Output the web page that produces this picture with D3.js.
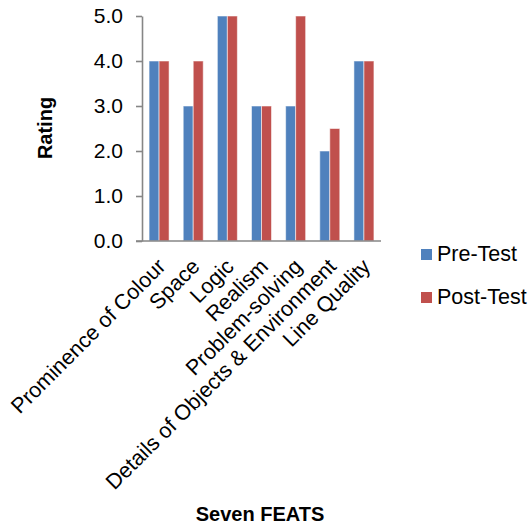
<!DOCTYPE html>
<html>
<head>
<meta charset="utf-8">
<script src="https://cdn.jsdelivr.net/npm/d3@7"></script>
<style>
  html, body { margin: 0; padding: 0; background: #ffffff; }
  svg text { font-family: "Liberation Sans", Arial, sans-serif; fill: #000; }
</style>
</head>
<body>
<svg id="chart" width="531" height="529"></svg>
<script>
// Seven FEATS ratings, before and after
const categories = [
  "Prominence of Colour",
  "Space",
  "Logic",
  "Realism",
  "Problem-solving",
  "Details of Objects & Environment",
  "Line Quality"
];
const preTest  = [4, 3, 5, 3, 3, 2, 4];
const postTest = [4, 4, 5, 3, 5, 2.5, 4];
const seriesNames = ["Pre-Test", "Post-Test"];
const seriesColors = ["#4F81BD", "#C0504D"];
const yTicks = [0, 1, 2, 3, 4, 5];

const svg = d3.select("#chart");

const plot = { left: 142, right: 381, top: 16, bottom: 241 };

const x = d3.scaleBand()
  .domain(categories)
  .range([plot.left, plot.right])
  .paddingInner(0.414)
  .paddingOuter(0.207);

const series = d3.scaleBand()
  .domain(seriesNames)
  .range([0, x.bandwidth()]);

const y = d3.scaleLinear()
  .domain([0, 5])
  .range([plot.bottom, plot.top]);

const color = d3.scaleOrdinal().domain(seriesNames).range(seriesColors);

const rows = categories.map((c, i) => ({
  category: c,
  values: [
    { name: seriesNames[0], value: preTest[i] },
    { name: seriesNames[1], value: postTest[i] }
  ]
}));

// bars
const groups = svg.append("g")
  .selectAll("g")
  .data(rows)
  .join("g")
  .attr("transform", d => `translate(${x(d.category)},0)`);

groups.selectAll("rect")
  .data(d => d.values)
  .join("rect")
  .attr("x", d => series(d.name))
  .attr("y", d => y(d.value))
  .attr("width", series.bandwidth())
  .attr("height", d => y(0) - y(d.value))
  .attr("fill", d => color(d.name))
  .attr("stroke", "rgba(255,255,255,0.55)")
  .attr("stroke-width", 1);

// y axis
const yAxis = svg.append("g")
  .attr("transform", `translate(${plot.left},0)`)
  .call(d3.axisLeft(y)
    .tickValues(yTicks)
    .tickFormat(d3.format(".1f"))
    .tickSize(6)
    .tickSizeOuter(0)
    .tickPadding(13));
yAxis.select(".domain").attr("stroke", "#868686").attr("stroke-width", 1.6);
yAxis.selectAll(".tick line").attr("stroke", "#868686").attr("stroke-width", 1.6);
yAxis.selectAll(".tick text")
  .attr("font-size", 21)
  .attr("font-family", "Liberation Sans, Arial, sans-serif")
  .attr("fill", "#000");

// x axis line
svg.append("line")
  .attr("x1", plot.left - 6)
  .attr("x2", plot.right)
  .attr("y1", y(0))
  .attr("y2", y(0))
  .attr("stroke", "#868686")
  .attr("stroke-width", 1.6);

// category labels, rotated
svg.append("g")
  .selectAll("text")
  .data(categories)
  .join("text")
  .attr("transform", d => `translate(${x(d) + x.bandwidth() / 2 - 3},${y(0) + 16}) rotate(-45)`)
  .attr("text-anchor", "end")
  .attr("dy", "0.71em")
  .attr("font-size", 21.5)
  .text(d => d);

// axis titles
svg.append("text")
  .attr("transform", `translate(52,128) rotate(-90)`)
  .attr("text-anchor", "middle")
  .attr("font-size", 20)
  .attr("font-weight", "bold")
  .text("Rating");

svg.append("text")
  .attr("x", 260)
  .attr("y", 521)
  .attr("text-anchor", "middle")
  .attr("font-size", 20)
  .attr("font-weight", "bold")
  .text("Seven FEATS");

// legend
const legend = svg.append("g")
  .selectAll("g")
  .data(seriesNames)
  .join("g")
  .attr("transform", (d, i) => `translate(421,${249 + i * 43})`);

legend.append("rect")
  .attr("width", 11)
  .attr("height", 11)
  .attr("fill", d => color(d));

legend.append("text")
  .attr("x", 16)
  .attr("y", 12)
  .attr("font-size", 21.5)
  .text(d => d);
</script>
</body>
</html>
